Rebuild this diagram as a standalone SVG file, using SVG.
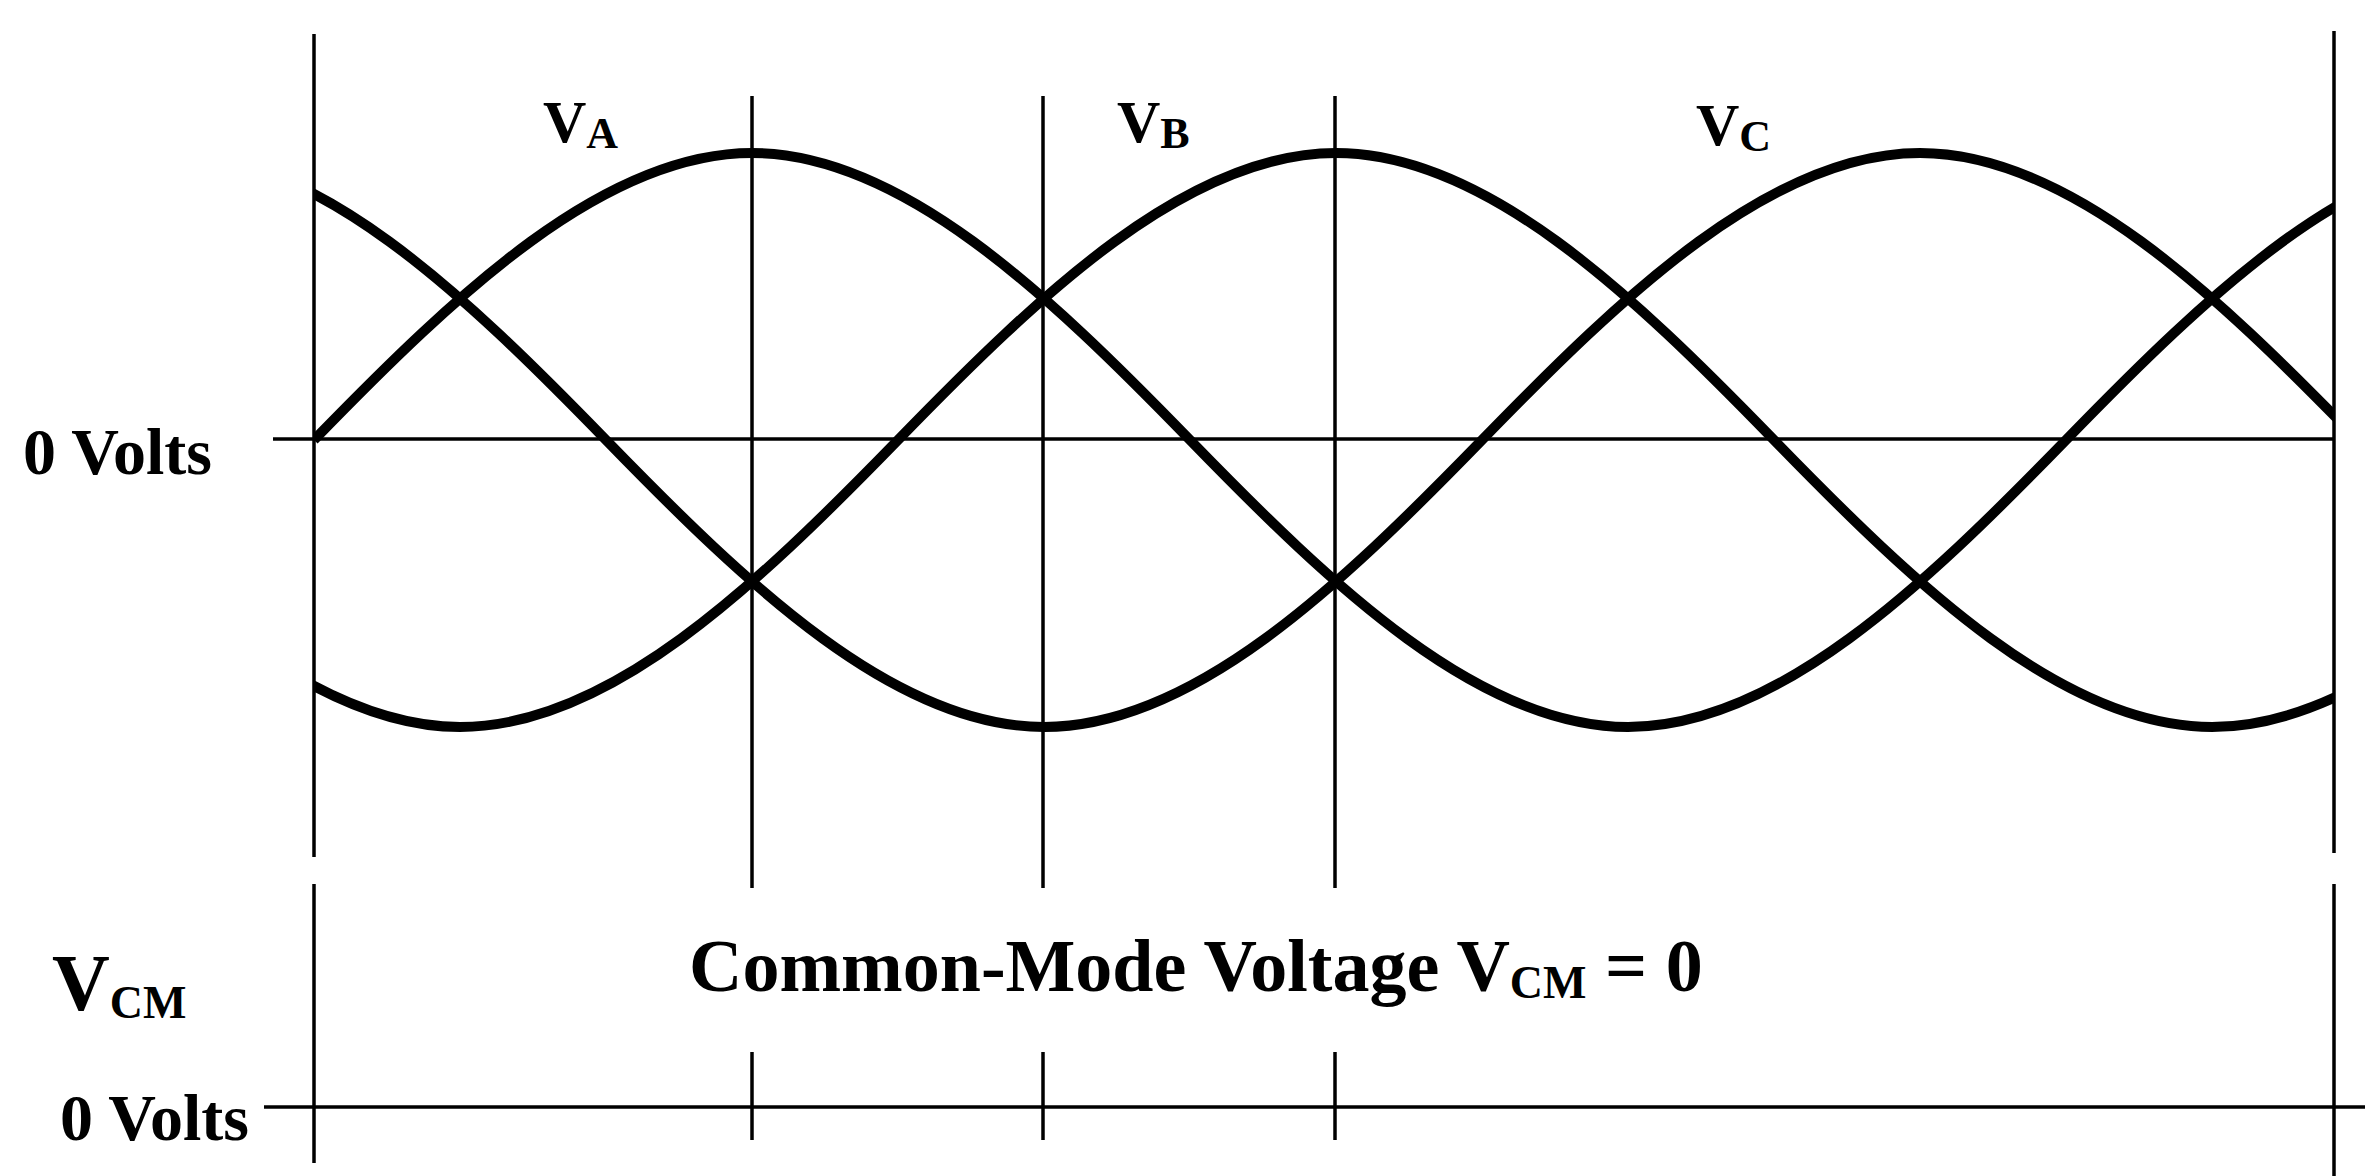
<svg xmlns="http://www.w3.org/2000/svg" width="2373" height="1176" viewBox="0 0 2373 1176">
<style>
.g{stroke:#000;stroke-width:3.5;fill:none}
.w{stroke:#000;stroke-width:10;fill:none;stroke-linecap:butt}
text{font-family:"Liberation Serif","Times New Roman",serif;font-weight:bold;fill:#000}
</style>
<defs><clipPath id="c"><rect x="314" y="0" width="2020" height="1176"/></clipPath></defs>
<g id="axes">
<line class="g" x1="314" y1="34" x2="314" y2="857"/>
<line class="g" x1="314" y1="884" x2="314" y2="1163"/>
<line class="g" x1="752" y1="96" x2="752" y2="888"/>
<line class="g" x1="752" y1="1052" x2="752" y2="1140"/>
<line class="g" x1="1043" y1="96" x2="1043" y2="888"/>
<line class="g" x1="1043" y1="1052" x2="1043" y2="1140"/>
<line class="g" x1="1335" y1="96" x2="1335" y2="888"/>
<line class="g" x1="1335" y1="1052" x2="1335" y2="1140"/>
<line class="g" x1="2334" y1="31" x2="2334" y2="853"/>
<line class="g" x1="2334" y1="884" x2="2334" y2="1176"/>
<line class="g" x1="273" y1="439" x2="2334" y2="439"/>
<line class="g" x1="264" y1="1107" x2="2365" y2="1107"/>
</g>
<g id="waves" clip-path="url(#c)">
<path id="va" class="w" d="M314,440 c142.8,-147 289.7,-287 438,-287 c148.3,0 295.2,140 438,287 c142.8,147 289.7,287 438,287 c148.3,0 295.2,-140 438,-287 c142.8,-147 289.7,-287 438,-287"/>
<path id="vb" class="w" d="M22,440 c142.8,147 289.7,287 438,287 c148.3,0 295.2,-140 438,-287 c142.8,-147 289.7,-287 438,-287 c148.3,0 295.2,140 438,287 c142.8,147 289.7,287 438,287 c148.3,0 295.2,-140 438,-287"/>
<path id="vc" class="w" d="M-270,440 c142.8,-147 289.7,-287 438,-287 c148.3,0 295.2,140 438,287 c142.8,147 289.7,287 438,287 c148.3,0 295.2,-140 438,-287 c142.8,-147 289.7,-287 438,-287 c148.3,0 295.2,140 438,287"/>
</g>
<g id="labels">
<text x="23" y="474" font-size="66">0 Volts</text>
<text x="543" y="142" font-size="60">V<tspan font-size="44" dy="6">A</tspan></text>
<text x="1117" y="142" font-size="60">V<tspan font-size="44" dy="6">B</tspan></text>
<text x="1696" y="145" font-size="60">V<tspan font-size="44" dy="6">C</tspan></text>
<text x="52" y="1010" font-size="80">V<tspan font-size="46" dy="8">CM</tspan></text>
<text x="689" y="991" font-size="74">Common-Mode Voltage V<tspan font-size="46" dy="7">CM</tspan><tspan dy="-7"> = 0</tspan></text>
<text x="60" y="1140" font-size="66">0 Volts</text>
</g>
</svg>
